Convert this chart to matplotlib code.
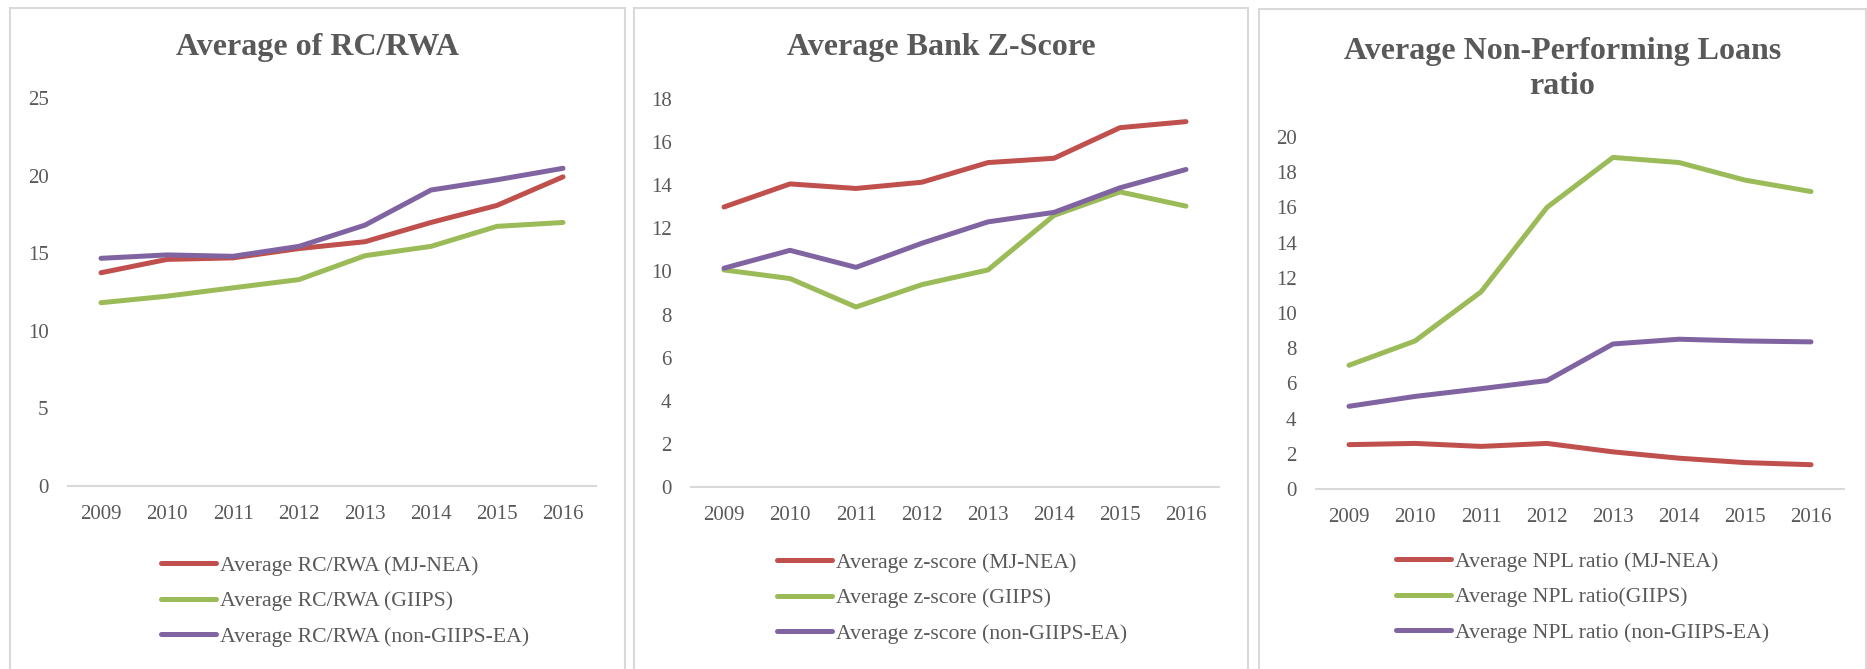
import matplotlib
matplotlib.use("Agg")
import matplotlib.pyplot as plt
from matplotlib.patches import Rectangle

plt.rcParams['font.family'] = ['Liberation Serif', 'DejaVu Serif']

years = ['2009', '2010', '2011', '2012', '2013', '2014', '2015', '2016']

rc_mj = [13.74, 14.6, 14.7, 15.3, 15.74, 16.98, 18.08, 19.92]
rc_giips = [11.81, 12.23, 12.77, 13.3, 14.84, 15.44, 16.73, 16.98]
rc_non = [14.67, 14.89, 14.8, 15.44, 16.81, 19.07, 19.73, 20.47]

z_mj = [12.99, 14.06, 13.85, 14.14, 15.05, 15.25, 16.67, 16.95]
z_giips = [10.07, 9.67, 8.35, 9.39, 10.07, 12.6, 13.69, 13.03]
z_non = [10.15, 10.98, 10.19, 11.31, 12.3, 12.74, 13.88, 14.73]

npl_mj = [2.52, 2.59, 2.42, 2.59, 2.11, 1.75, 1.5, 1.38]
npl_giips = [7.03, 8.41, 11.2, 16.0, 18.84, 18.55, 17.55, 16.9]
npl_non = [4.7, 5.26, 5.7, 6.16, 8.24, 8.51, 8.41, 8.36]

titles = ['Average of RC/RWA', 'Average Bank Z-Score', 'Average Non-Performing Loans\nratio']
labels = [
    ['Average RC/RWA (MJ-NEA)', 'Average RC/RWA (GIIPS)', 'Average RC/RWA (non-GIIPS-EA)'],
    ['Average z-score (MJ-NEA)', 'Average z-score (GIIPS)', 'Average z-score (non-GIIPS-EA)'],
    ['Average NPL ratio (MJ-NEA)', 'Average NPL ratio(GIIPS)', 'Average NPL ratio (non-GIIPS-EA)'],
]
series = [[rc_mj, rc_giips, rc_non], [z_mj, z_giips, z_non], [npl_mj, npl_giips, npl_non]]
ymax = [25, 18, 20]
ystep = [5, 2, 2]

colors = ['#C0504D', '#9BBB59', '#8064A2']
TXT = '#595959'
GRID = '#D9D9D9'

W, H = 1867, 669
fig = plt.figure(figsize=(W / 100, H / 100), dpi=100)

# layout in pixels (top-origin)
boxes = [(10, 625, 8), (634, 1248, 8), (1259, 1866, 9)]
axes_px = [(68, 596, 98, 486), (691, 1219, 99, 487), (1316, 1844, 137, 489)]
title_y = [47, 47, 69]
legend_px = [(161, 601), (777, 598), (1396, 597)]

def fx(x):
    return x / W

def fy(y):
    return 1 - y / H

for i in range(3):
    bx0, bx1, by0 = boxes[i]
    fig.patches.append(Rectangle((fx(bx0), fy(H + 5)), fx(bx1 - bx0), (H + 5 - by0) / H,
                                 transform=fig.transFigure, fill=False,
                                 edgecolor=GRID, linewidth=1.5))
    x0, x1, yt, yb = axes_px[i]
    ax = fig.add_axes([fx(x0), fy(yb), fx(x1 - x0), (yb - yt) / H])
    xs = list(range(len(years)))
    for s, c, lab in zip(series[i], colors, labels[i]):
        ax.plot(xs, s, color=c, linewidth=3.6, solid_capstyle='round',
                solid_joinstyle='round', label=lab)
    ax.set_xlim(-0.5, len(years) - 0.5)
    ax.set_ylim(0, ymax[i])
    ax.set_yticks(list(range(0, ymax[i] + 1, ystep[i])))
    ax.set_xticks(xs)
    ax.set_xticklabels(years)
    for sp in ['top', 'left', 'right']:
        ax.spines[sp].set_visible(False)
    ax.spines['bottom'].set_color(GRID)
    ax.spines['bottom'].set_linewidth(1.5)
    ax.tick_params(axis='both', length=0, colors=TXT, labelsize=15)
    ax.tick_params(axis='y', pad=14)
    ax.tick_params(axis='x', pad=14)
    ax.patch.set_alpha(0)

    fig.text(fx((bx0 + bx1) / 2), fy(title_y[i]), titles[i], ha='center', va='center',
             fontsize=23, fontweight='bold', color=TXT, linespacing=1.3)

    lx, ly = legend_px[i]
    leg = fig.legend(handles=ax.get_lines(), labels=labels[i], loc='center left',
                     bbox_to_anchor=(fx(lx), fy(ly)), bbox_transform=fig.transFigure,
                     frameon=False, fontsize=15.7, handlelength=2.5, handletextpad=0.2,
                     labelspacing=0.7, borderpad=0, borderaxespad=0)
    for t in leg.get_texts():
        t.set_color(TXT)

fig.savefig('out.png', dpi=100)
